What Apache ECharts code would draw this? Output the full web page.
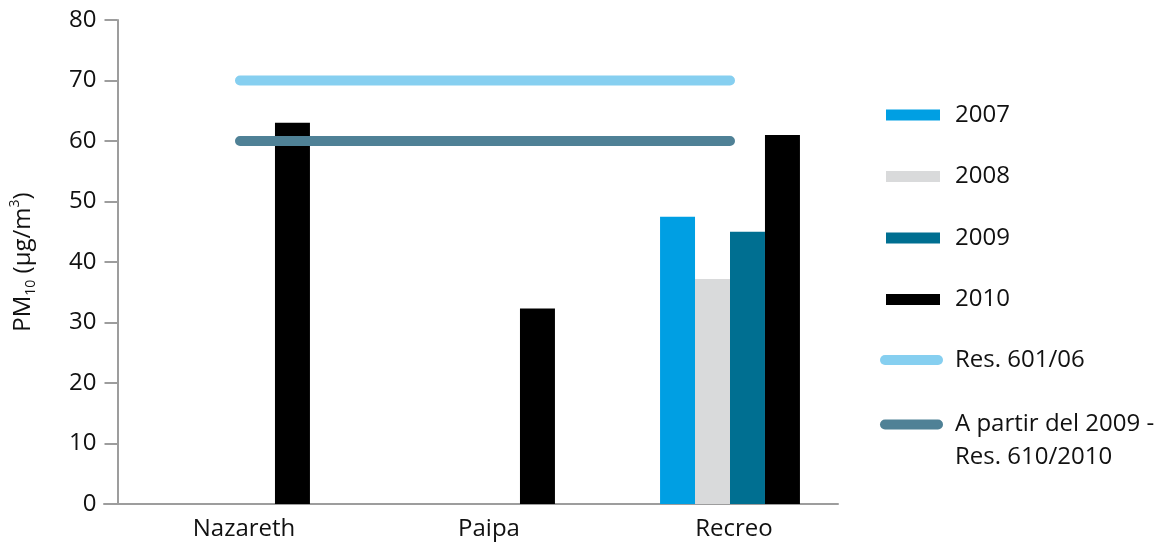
<!DOCTYPE html>
<html>
<head>
<meta charset="utf-8">
<script src="https://cdn.jsdelivr.net/npm/echarts@6/dist/echarts.min.js"></script>
<style>html,body{margin:0;padding:0;background:#fff}#c{width:1170px;height:546px}</style>
</head>
<body>
<div id="c"></div>
<script>
const categories = ['Nazareth', 'Paipa', 'Recreo'];
const s2007 = [null, null, 47.5];
const s2008 = [null, null, 37.2];
const s2009 = [null, null, 45.0];
const s2010 = [63.0, 32.3, 61.0];
const res601 = [70, 70, 70];
const res610 = [60, 60, 60];
const yTicks = { min: 0, max: 80, interval: 10 };

const FONT = 'Open Sans';
const TXT = '#111111';
const chart = echarts.init(document.getElementById('c'));
const barNames = ['2007', '2008', '2009', '2010'];
const barColors = ['#009fe3', '#d9dadb', '#006f91', '#000000'];
const barData = [s2007, s2008, s2009, s2010];

const series = barNames.map((n, i) => ({
  name: n, type: 'bar', data: barData[i], barGap: 0, barCategoryGap: '42.9%',
  itemStyle: { color: barColors[i] }, xAxisIndex: 0, yAxisIndex: 0
}));
series.push({
  name: 'Res. 601/06', type: 'line', data: res601, symbol: 'none',
  lineStyle: { color: '#86cff0', width: 10, cap: 'round' }, itemStyle: { color: '#86cff0' }, z: 5
});
series.push({
  name: 'A partir del 2009 - Res. 610/2010', type: 'line', data: res610, symbol: 'none',
  lineStyle: { color: '#4f8196', width: 10, cap: 'round' }, itemStyle: { color: '#4f8196' }, z: 5
});

const stadium = 'path://M5,0 L58,0 A5,5 0 0 1 58,10 L5,10 A5,5 0 0 1 5,0 Z';

chart.setOption({
  animation: false,
  textStyle: { fontFamily: FONT },
  grid: [
    { left: 117.5, top: 20, width: 735, height: 484, containLabel: false, outerBoundsMode: 'none' },
    { left: 104, top: 20, width: 734, height: 484, containLabel: false, outerBoundsMode: 'none' }
  ],
  xAxis: [
    { type: 'category', data: categories, gridIndex: 0,
      axisLine: { show: false }, axisTick: { show: false },
      axisLabel: { fontSize: 24, color: TXT, margin: 13, fontFamily: FONT, padding: [0, 0, 0, 8] } },
    { type: 'value', gridIndex: 1, min: 0, max: 1,
      axisLine: { show: true, onZero: false, lineStyle: { color: '#9d9d9d', width: 2 } },
      axisTick: { show: false }, axisLabel: { show: false }, splitLine: { show: false } }
  ],
  yAxis: [
    { type: 'value', gridIndex: 0, min: yTicks.min, max: yTicks.max, interval: yTicks.interval,
      axisLine: { show: true, lineStyle: { color: '#9d9d9d', width: 2 } },
      axisTick: { show: true, length: 13, lineStyle: { color: '#9d9d9d', width: 2 } },
      splitLine: { show: false },
      axisLabel: { fontSize: 24, color: TXT, margin: 21, fontFamily: FONT },
      name: '{n|PM}{sub|10}{n| (µg/m}{sup|3}{n|)}',
      nameLocation: 'middle', nameRotate: 90, nameGap: 79,
      nameTextStyle: {
        rich: {
          n: { fontSize: 24, color: TXT, fontFamily: FONT, lineHeight: 30 },
          sub: { fontSize: 14, color: TXT, fontFamily: FONT, verticalAlign: 'bottom', lineHeight: 30, padding: [10, 0, 0, 0] },
          sup: { fontSize: 14, color: TXT, fontFamily: FONT, verticalAlign: 'top', lineHeight: 30, padding: [0, 0, 10, 0] }
        }
      } },
    { type: 'value', gridIndex: 1, min: 0, max: 1, show: false }
  ],
  legend: [
    { orient: 'vertical', left: 886, top: 102, padding: 0, itemWidth: 54, itemHeight: 11, itemGap: 35.5,
      icon: 'rect', data: barNames,
      textStyle: { fontSize: 24, color: TXT, lineHeight: 26, fontFamily: FONT, padding: [0, 0, 0, 10] } },
    { orient: 'vertical', left: 880, top: 347, padding: 0, itemWidth: 63, itemHeight: 10, itemGap: 0,
      data: [{ name: 'Res. 601/06', icon: stadium }],
      textStyle: { fontSize: 24, color: TXT, lineHeight: 26, fontFamily: FONT, padding: [0, 0, 0, 7] } },
    { orient: 'vertical', left: 880, top: 375, padding: 0, itemWidth: 63, itemHeight: 10, itemGap: 0,
      data: [{ name: 'A partir del 2009 - Res. 610/2010', icon: stadium }],
      formatter: () => ' \nA partir del 2009 -\nRes. 610/2010',
      textStyle: { fontSize: 24, color: TXT, lineHeight: 33, fontFamily: FONT, padding: [0, 0, 0, 7] } }
  ],
  series: series
});
</script>
</body>
</html>
